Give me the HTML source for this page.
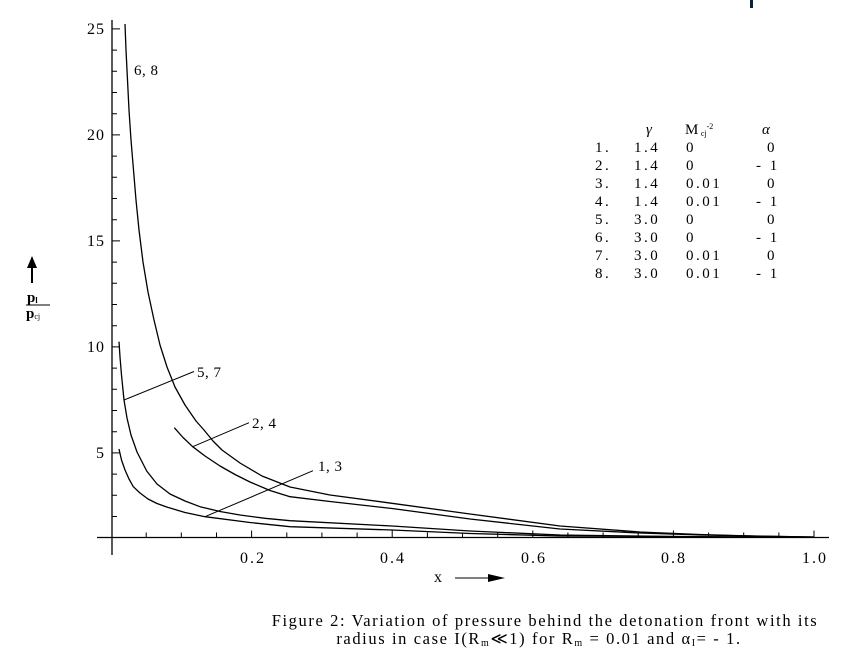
<!DOCTYPE html>
<html><head><meta charset="utf-8"><style>
html,body{margin:0;padding:0;background:#fff;}
svg{display:block;font-family:"Liberation Serif",serif;}
</style></head><body>
<svg width="842" height="668" viewBox="0 0 842 668" xmlns="http://www.w3.org/2000/svg">
<rect x="750" y="0" width="3" height="8" fill="#123"/>
<g stroke="#000" stroke-width="1.3" fill="none" stroke-linejoin="round">
<line x1="112" y1="20" x2="112" y2="555"/>
<line x1="97" y1="537.5" x2="829" y2="537.5"/>
<polyline points="125,24 126,50 127.5,80 129,110 131,140 133.5,170 136,200 139,230 143,262 148,292 154,320 160,345 167,367 175,387 185,405 196,421 204,430 213,441 222,450 240,463 262,476 290,487 330,495 392,503.3 470,514 560,526 640,532 700,534.5 760,536.3 814,537"/>
<polyline points="174.3,427.7 183,437.5 192.7,446.7 205,456 220,466 235,474.5 250,482 270,490.5 290,496.7 330,501.5 392,508.5 470,519 560,529 640,533 700,535 814,537"/>
<polyline points="119,341.7 120,357 121.5,375 124,400 127,418 131,435 137,452 146.7,471 157,484 170,494 185,501 200,506.7 220,511.5 240,515 265,518.3 290,520.7 392,526 470,531 560,535 700,536.8 814,537.3"/>
<polyline points="119,449 121.5,460 125,470 129,479 133.3,486.7 140,493 148,499 157,503.5 166.7,507 185,512.5 205,516.7 250,522.5 290,526.7 392,530 470,533.5 560,536 814,537.3"/>
<line x1="124" y1="400" x2="194" y2="371.5" stroke-width="1"/>
<line x1="192.7" y1="446.7" x2="249" y2="422.7" stroke-width="1"/>
<line x1="205" y1="516.7" x2="313" y2="470.7" stroke-width="1"/>
</g>
<path stroke="#000" stroke-width="1" fill="none" d="
M112 516.5h5 M112 495.3h5 M112 474.1h5 M112 452.9h8 M112 431.7h5 M112 410.5h5 M112 389.3h5 M112 368.1h5 M112 346.9h8
M112 325.7h5 M112 304.5h5 M112 283.3h5 M112 262.1h5 M112 240.9h8 M112 219.7h5 M112 198.5h5 M112 177.3h5 M112 156.1h5
M112 134.9h8 M112 113.7h5 M112 92.5h5 M112 71.3h5 M112 50.1h5 M112 28.9h8
M146.2 537.5v-5 M181.3 537.5v-5 M216.5 537.5v-5 M251.6 537.5v-7 M286.8 537.5v-5 M321.9 537.5v-5 M357.1 537.5v-5 M392.2 537.5v-7
M427.4 537.5v-5 M462.5 537.5v-5 M497.7 537.5v-5 M532.8 537.5v-7 M567.9 537.5v-5 M603.1 537.5v-5 M638.2 537.5v-5 M673.4 537.5v-7
M708.6 537.5v-5 M743.7 537.5v-5 M778.9 537.5v-5 M814 537.5v-7"/>
<g font-size="16" text-anchor="end" letter-spacing="1">
<text x="105" y="34">25</text>
<text x="105" y="140">20</text>
<text x="105" y="246">15</text>
<text x="105" y="352">10</text>
<text x="105" y="458">5</text>
</g>
<g font-size="16" text-anchor="middle" letter-spacing="2">
<text x="253" y="563">0.2</text>
<text x="393" y="563">0.4</text>
<text x="534" y="563">0.6</text>
<text x="674" y="563">0.8</text>
<text x="815" y="563">1.0</text>
</g>
<g font-size="15" letter-spacing="0.5">
<text x="134" y="75">6, 8</text>
<text x="197" y="377">5, 7</text>
<text x="252" y="428">2, 4</text>
<text x="318" y="471">1, 3</text>
</g>
<g font-size="15" letter-spacing="2.5">
<text x="646" y="134" font-style="italic">γ</text>
<text x="685" y="134">M<tspan font-size="8" dy="2" letter-spacing="0">cj</tspan><tspan font-size="8" dy="-7" letter-spacing="0">-2</tspan></text>
<text x="762" y="134" font-style="italic">α</text>
<text x="595" y="152">1.</text><text x="634" y="152">1.4</text><text x="686" y="152">0</text><text x="767" y="152">0</text>
<text x="595" y="170">2.</text><text x="634" y="170">1.4</text><text x="686" y="170">0</text><text x="756" y="170">- 1</text>
<text x="595" y="188">3.</text><text x="634" y="188">1.4</text><text x="686" y="188">0.01</text><text x="767" y="188">0</text>
<text x="595" y="206">4.</text><text x="634" y="206">1.4</text><text x="686" y="206">0.01</text><text x="756" y="206">- 1</text>
<text x="595" y="224">5.</text><text x="634" y="224">3.0</text><text x="686" y="224">0</text><text x="767" y="224">0</text>
<text x="595" y="242">6.</text><text x="634" y="242">3.0</text><text x="686" y="242">0</text><text x="756" y="242">- 1</text>
<text x="595" y="260">7.</text><text x="634" y="260">3.0</text><text x="686" y="260">0.01</text><text x="767" y="260">0</text>
<text x="595" y="278">8.</text><text x="634" y="278">3.0</text><text x="686" y="278">0.01</text><text x="756" y="278">- 1</text>
</g>
<line x1="32" y1="283" x2="32" y2="266" stroke="#000" stroke-width="2"/>
<polygon points="27,268 37,268 32,256" fill="#000"/>
<text x="27" y="302" font-size="15" font-weight="bold">p<tspan font-size="8" dy="1">l</tspan></text>
<line x1="26" y1="305" x2="50" y2="305" stroke="#000" stroke-width="1"/>
<text x="26" y="318" font-size="15" font-weight="bold">p<tspan font-size="8" dy="1" font-weight="normal">cj</tspan></text>
<text x="434" y="582" font-size="16">x</text>
<line x1="455" y1="578" x2="490" y2="578" stroke="#000" stroke-width="1"/>
<polygon points="488,574 505,578 488,582" fill="#000"/>
<g font-size="16.5" text-anchor="middle" letter-spacing="1.6">
<text x="545" y="626">Figure 2: Variation of pressure behind the detonation front with its</text>
<text x="539" y="644">radius in case I(R<tspan font-size="10" dy="2">m</tspan><tspan dy="-2">≪1) for R</tspan><tspan font-size="10" dy="2">m</tspan><tspan dy="-2"> = 0.01 and α</tspan><tspan font-size="10" dy="2">I</tspan><tspan dy="-2">= - 1.</tspan></text>
</g>
</svg>
</body></html>
